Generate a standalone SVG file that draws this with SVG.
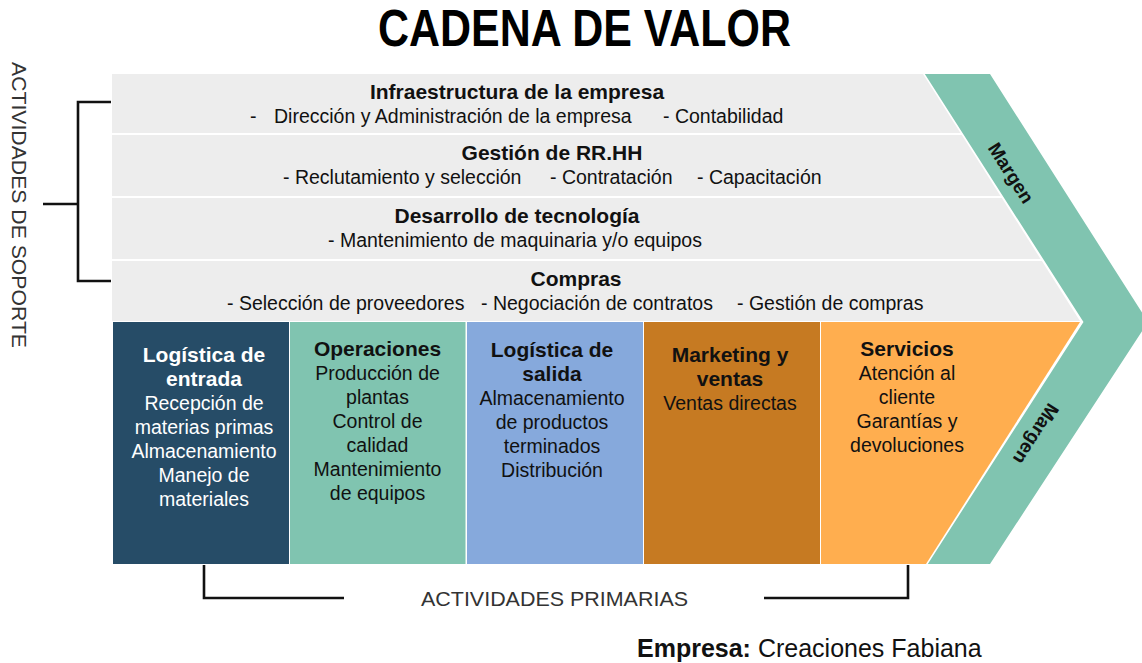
<svg xmlns="http://www.w3.org/2000/svg" width="1142" height="663" viewBox="0 0 1142 663">
<style>
text{font-family:"Liberation Sans",Arial,sans-serif;fill:#111}
.t{font-size:21px;font-weight:bold;text-anchor:middle}
.s{font-size:19.5px}
.c{font-size:19.5px;text-anchor:middle}
.w{fill:#fff}
.band{fill:#ededed}
.br{fill:none;stroke:#111;stroke-width:2.6}
.lbl{font-size:21px;fill:#333}
.mg{font-size:19px;font-weight:bold;text-anchor:middle}
</style>
<rect width="1142" height="663" fill="#fff"/>
<text x="378" y="46" font-size="52" font-weight="bold" textLength="413" lengthAdjust="spacingAndGlyphs" style="fill:#000">CADENA DE VALOR</text>

<g id="margen">
<polygon points="923,74 990,74 1148,322 990,564 926,564 1082,322" fill="#80c4b0"/>
<polyline points="922,72 1082,322 925,566" fill="none" stroke="#fff" stroke-width="2.5"/>
<text class="mg" transform="translate(1011,173) rotate(57.5)" dy="6.5">Margen</text>
<text class="mg" transform="translate(1036,434) rotate(122.5)" dy="6.5">Margen</text>
</g>

<g id="infraestructura">
<polygon class="band" points="112,74 923,74 960.5,133 112,133"/>
<text class="t" x="517" y="99">Infraestructura de la empresa</text>
<text class="s" x="250" y="123">-</text>
<text class="s" x="274" y="123">Dirección y Administración de la empresa</text>
<text class="s" x="663" y="123">- Contabilidad</text>
</g>
<g id="rrhh">
<polygon class="band" points="112,135 961.8,135 1000.5,196 112,196"/>
<text class="t" x="552" y="160">Gestión de RR.HH</text>
<text class="s" x="283" y="184">- Reclutamiento y selección</text>
<text class="s" x="550" y="184">- Contratación</text>
<text class="s" x="697" y="184">- Capacitación</text>
</g>
<g id="tecnologia">
<polygon class="band" points="112,198 1001.8,198 1040.6,259 112,259"/>
<text class="t" x="517" y="223">Desarrollo de tecnología</text>
<text class="s" x="328" y="247">- Mantenimiento de maquinaria y/o equipos</text>
</g>
<g id="compras">
<polygon class="band" points="112,261 1041.9,261 1080,321 112,321"/>
<text class="t" x="576" y="286">Compras</text>
<text class="s" x="227" y="310">- Selección de proveedores</text>
<text class="s" x="481" y="310">- Negociación de contratos</text>
<text class="s" x="737" y="310">- Gestión de compras</text>
</g>

<g id="logistica-entrada">
<rect x="113" y="322" width="176" height="242" fill="#264c67"/>
<text class="t w" x="204" y="362">Logística de</text>
<text class="t w" x="204" y="386">entrada</text>
<text class="c w" x="204" y="410">Recepción de</text>
<text class="c w" x="204" y="434">materias primas</text>
<text class="c w" x="204" y="458">Almacenamiento</text>
<text class="c w" x="204" y="482">Manejo de</text>
<text class="c w" x="204" y="506">materiales</text>
</g>
<g id="operaciones">
<rect x="290" y="322" width="175.5" height="242" fill="#80c4b0"/>
<text class="t" x="377.5" y="356">Operaciones</text>
<text class="c" x="377.5" y="380">Producción de</text>
<text class="c" x="377.5" y="404">plantas</text>
<text class="c" x="377.5" y="428">Control de</text>
<text class="c" x="377.5" y="452">calidad</text>
<text class="c" x="377.5" y="476">Mantenimiento</text>
<text class="c" x="377.5" y="500">de equipos</text>
</g>
<g id="logistica-salida">
<rect x="467" y="322" width="176" height="242" fill="#86a9dc"/>
<text class="t" x="552" y="357">Logística de</text>
<text class="t" x="552" y="381">salida</text>
<text class="c" x="552" y="405">Almacenamiento</text>
<text class="c" x="552" y="429">de productos</text>
<text class="c" x="552" y="453">terminados</text>
<text class="c" x="552" y="477">Distribución</text>
</g>
<g id="marketing">
<rect x="644" y="322" width="176" height="242" fill="#c67a22"/>
<text class="t" x="730" y="362">Marketing y</text>
<text class="t" x="730" y="386">ventas</text>
<text class="c" x="730" y="410">Ventas directas</text>
</g>
<g id="servicios">
<polygon points="821,322 1080,322 926,564 821,564" fill="#ffae4f"/>
<text class="t" x="907" y="356">Servicios</text>
<text class="c" x="907" y="380">Atención al</text>
<text class="c" x="907" y="404">cliente</text>
<text class="c" x="907" y="428">Garantías y</text>
<text class="c" x="907" y="452">devoluciones</text>
</g>

<g id="connectors">
<path class="br" d="M111,102 H78 V281 H111"/>
<path class="br" d="M43,204 H78"/>
<path class="br" d="M204,565 V598 H344"/>
<path class="br" d="M764,598 H908 V565"/>
</g>

<g id="labels">
<text class="lbl" transform="translate(12,62) rotate(90)" textLength="286" lengthAdjust="spacingAndGlyphs">ACTIVIDADES DE SOPORTE</text>
<text class="lbl" x="421" y="606" textLength="267" lengthAdjust="spacingAndGlyphs">ACTIVIDADES PRIMARIAS</text>
<text x="637" y="657" font-size="25"><tspan font-weight="bold">Empresa:</tspan> Creaciones Fabiana</text>
</g>
</svg>
